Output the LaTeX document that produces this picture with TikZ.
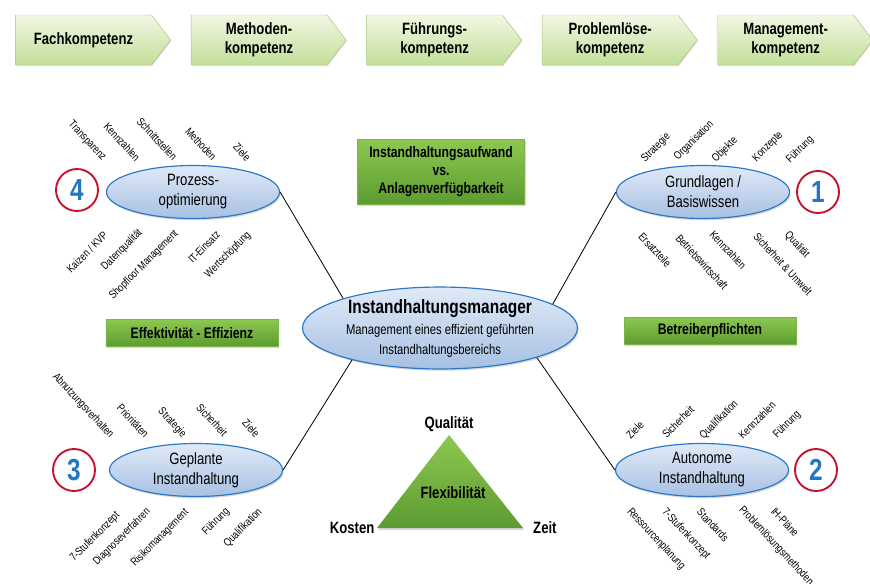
\documentclass[tikz,border=0pt]{standalone}
\usepackage{fontspec}
\setmainfont{Liberation Sans}[FakeStretch=0.8]
\usepackage{tikz}
\usetikzlibrary{shapes.geometric,shapes.symbols,shadows}
\usetikzlibrary{positioning}
\definecolor{chevtop}{HTML}{F0F8E4}
\definecolor{chevbot}{HTML}{C2DF98}
\definecolor{chevline}{HTML}{A3C878}
\definecolor{gtop}{HTML}{8CC850}
\definecolor{gbot}{HTML}{5C9B30}
\definecolor{gline}{HTML}{7DB544}
\definecolor{elltop}{HTML}{E0EAF7}
\definecolor{ellbot}{HTML}{A7C0E3}
\definecolor{ellline}{HTML}{2A78C6}
\definecolor{numblue}{HTML}{2476C3}
\definecolor{numred}{HTML}{C8102E}

\begin{document}
\begin{tikzpicture}[x=0.03cm,y=-0.03cm,
  chev/.style={signal,signal to=east,signal pointer angle=105,draw=chevline,
    top color=chevtop,bottom color=chevbot,minimum width=4.65cm,minimum height=1.5cm,
    inner sep=0pt,align=center,font=\fontsize{14}{16}\selectfont\bfseries,
    drop shadow={opacity=0.25,shadow xshift=0.6pt,shadow yshift=-1pt}},
  ell/.style={ellipse,draw=ellline,line width=1pt,top color=elltop,bottom color=ellbot,
    minimum width=5.19cm,minimum height=1.59cm,inner sep=0pt,align=center,
    font=\fontsize{14}{17}\selectfont,
    drop shadow={opacity=0.3,shadow xshift=1pt,shadow yshift=-1.5pt}},
  gbox/.style={rectangle,draw=gline,top color=gtop,bottom color=gbot,inner sep=0pt,
    align=center,font=\fontsize{13}{15.3}\selectfont\bfseries,
    drop shadow={opacity=0.3,shadow xshift=1pt,shadow yshift=-1.5pt}},
  num/.style={circle,draw=numred,line width=1.6pt,fill=white,minimum size=1.26cm,
    inner sep=0pt,text=numblue,font=\fontsize{26}{26}\selectfont\bfseries},
  conn/.style={draw=black,line width=0.7pt},
  lbl/.style={font=\fontsize{9.5}{11}\selectfont,inner sep=0pt},
  tlbl/.style={font=\fontsize{14}{16}\selectfont\bfseries,inner sep=0pt}]
\useasboundingbox (0,0) rectangle (870,583);

\node[chev] (fach) at (83.5,40) {Fachkompetenz};
\node[chev,right=0.6cm of fach] (meth) {Methoden-\\kompetenz};
\node[chev,right=0.6cm of meth] (fuehr) {Führungs-\\kompetenz};
\node[chev,right=0.6cm of fuehr] (probl) {Problemlöse-\\kompetenz};
\node[chev,right=0.6cm of probl] (mgmt) {Management-\\kompetenz};

\node[ell,minimum width=8.25cm,minimum height=2.4cm] (mgr) at (440,328)
  {{\fontsize{16.5}{19}\selectfont\bfseries Instandhaltungsmanager}\\[1pt]
   \fontsize{12}{13.5}\selectfont Management eines effizient geführten\\
   \fontsize{12}{13.5}\selectfont Instandhaltungsbereichs};
\node[ell] (proz) at (193,192) {Prozess-\\optimierung};
\node[ell] (grund) at (703,192) {Grundlagen /\\Basiswissen};
\node[ell] (gepl) at (196,470) {Geplante\\Instandhaltung};
\node[ell] (auto) at (702,470) {Autonome\\Instandhaltung};

\draw[conn] (proz.east) -- (mgr.163);
\draw[conn] (grund.west) -- (mgr.12);
\draw[conn] (gepl.east) -- (mgr.200);
\draw[conn] (auto.west) -- (mgr.-17);

\node[num] (n4) at (77,190) {4};
\node[num] (n1) at (818,192) {1};
\node[num] (n3) at (74,470) {3};
\node[num] (n2) at (816,470) {2};

\node[gbox,minimum width=5.01cm,minimum height=1.95cm] (aufw) at (441,172)
  {Instandhaltungsaufwand\\vs.\\Anlagenverfügbarkeit};
\node[gbox,minimum width=5.16cm,minimum height=0.81cm] (eff) at (192,333)
  {Effektivität - Effizienz};
\node[gbox,minimum width=5.16cm,minimum height=0.81cm] (betr) at (710,331)
  {Betreiberpflichten};

\coordinate (tq) at (449,435);
\coordinate (tk) at (377,528);
\coordinate (tz) at (523,528);
\path[top color=gtop,bottom color=gbot,
  drop shadow={opacity=0.3,shadow xshift=1pt,shadow yshift=-1.5pt}]
  (tq) -- (tk) -- (tz) -- cycle;
\node[tlbl] (flex) at (453,493) {Flexibilität};
\node[tlbl,above=3pt of tq] (qual) {Qualität};
\node[tlbl,left=2pt of tk] (kost) {Kosten};
\node[tlbl,right=0.3cm of tz] (zeit) {Zeit};

\foreach \txt/\px/\py [count=\i] in {Transparenz/87/141,Kennzahlen/122/142,
    Schnittstellen/157/139,Methoden/201/144,Ziele/242/152}
  \node[lbl,rotate=-47] (pt\i) at (\px,\py) {\txt};
\foreach \txt/\px/\py [count=\i] in {{Kaizen / KVP}/87/252,Datenqualität/122/250,
    Shopfloor Management/144/265,IT-Einsatz/204/247,Wertschöpfung/228/255}
  \node[lbl,rotate=45] (pb\i) at (\px,\py) {\txt};
\foreach \txt/\px/\py [count=\i] in {Strategie/656/148,Organisation/694/141,
    Objekte/725/150,Konzepte/768/147,Führung/800/150}
  \node[lbl,rotate=45] (gt\i) at (\px,\py) {\txt};
\foreach \txt/\px/\py [count=\i] in {Ersatzteile/655/250,Betriebswirtschaft/702/262,
    Kennzahlen/728/250,Sicherheit \& Umwelt/783/264,Qualität/797/245}
  \node[lbl,rotate=-47] (gb\i) at (\px,\py) {\txt};
\foreach \txt/\px/\py [count=\i] in {Abnutzungsverhalten/83/406,Prioritäten/133/421,
    Strategie/172/423,Sicherheit/212/420,Ziele/251/428}
  \node[lbl,rotate=-47] (it\i) at (\px,\py) {\txt};
\foreach \txt/\px/\py [count=\i] in {7-Stufenkonzept/95/537,Diagnoseverfahren/122/537,
    Risikomanagement/160/538,Führung/216/522,Qualifikation/243/528}
  \node[lbl,rotate=45] (ib\i) at (\px,\py) {\txt};
\foreach \txt/\px/\py [count=\i] in {Ziele/635/430,Sicherheit/678/422,
    Qualifikation/719/420,Kennzahlen/757/420,Führung/787/425}
  \node[lbl,rotate=45] (at\i) at (\px,\py) {\txt};
\foreach \txt/\px/\py [count=\i] in {Ressourcenplanung/656/539,7-Stufenkonzept/686/534,
    Standards/713/525,Problemlösungsmethoden/776/546,IH-Pläne/785/522}
  \node[lbl,rotate=-47] (ab\i) at (\px,\py) {\txt};
\end{tikzpicture}
\end{document}
